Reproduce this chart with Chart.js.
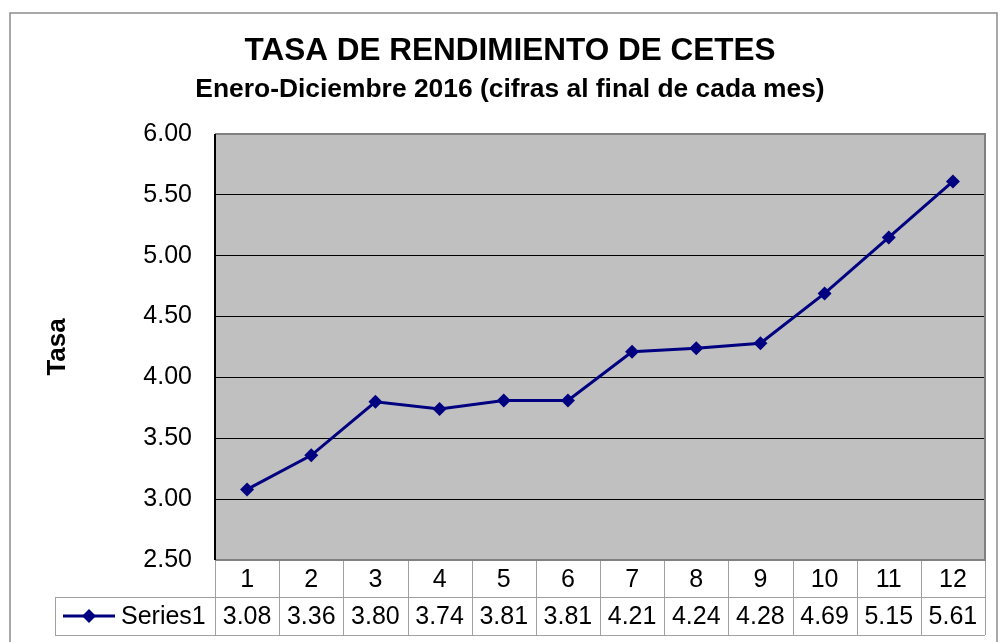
<!DOCTYPE html>
<html>
<head>
<meta charset="utf-8">
<title>Tasa de rendimiento de CETES</title>
<script src="https://cdn.jsdelivr.net/npm/chart.js@4.4.1/dist/chart.umd.min.js"></script>
<style>
  html, body { margin: 0; padding: 0; background: #fff; }
  #wrap { width: 1000px; height: 642px; }
</style>
</head>
<body>
<div id="wrap"><canvas id="chart" width="1000" height="642"></canvas></div>
<script>
// datos
const meses = ["1", "2", "3", "4", "5", "6", "7", "8", "9", "10", "11", "12"];
const tasa = [3.08, 3.36, 3.80, 3.74, 3.81, 3.81, 4.21, 4.24, 4.28, 4.69, 5.15, 5.61];
const serieNombre = "Series1";
const yMin = 2.5, yMax = 6.0, yPaso = 0.5;

const FONT = "'Liberation Sans', Arial, sans-serif";
const AZUL = "#000080";

// fondo gris y marco del area de trazado
const areaPlugin = {
  id: "area",
  beforeDraw(chart) {
    const { ctx, chartArea: a } = chart;
    ctx.save();
    ctx.fillStyle = "#fff";
    ctx.fillRect(0, 0, chart.width, chart.height);
    // marco exterior
    ctx.strokeStyle = "#8c8c8c";
    ctx.lineWidth = 1.5;
    ctx.strokeRect(10, 13, 987, 660);
    ctx.fillStyle = "#c0c0c0";
    ctx.fillRect(a.left, a.top, a.right - a.left, a.bottom - a.top);
    ctx.restore();
  },
  afterDatasetsDraw(chart) {
    const { ctx, chartArea: a } = chart;
    ctx.save();
    ctx.strokeStyle = "#808080";
    ctx.lineWidth = 2;
    ctx.beginPath();
    ctx.moveTo(a.left, a.top);
    ctx.lineTo(a.right, a.top);
    ctx.lineTo(a.right, a.bottom);
    ctx.lineTo(a.left, a.bottom);
    ctx.stroke();
    ctx.strokeStyle = "#000";
    ctx.beginPath();
    ctx.moveTo(a.left, a.top);
    ctx.lineTo(a.left, a.bottom);
    ctx.stroke();
    ctx.restore();
  }
};

// tabla de datos bajo el grafico
const tablaPlugin = {
  id: "tabla",
  afterDraw(chart) {
    const { ctx, chartArea: a } = chart;
    const xs = chart.scales.x;
    const ancho = (a.right - a.left) / meses.length;
    const y0 = a.bottom + 1, y1 = y0 + 36, y2 = y1 + 38;
    const leyIzq = 55;
    ctx.save();
    ctx.strokeStyle = "#a0a0a0";
    ctx.lineWidth = 1;
    ctx.beginPath();
    for (let i = 0; i <= meses.length; i++) {
      const x = Math.round(a.left + i * ancho) + 0.5;
      ctx.moveTo(x, y0);
      ctx.lineTo(x, y2);
    }
    ctx.moveTo(leyIzq + 0.5, y1);
    ctx.lineTo(leyIzq + 0.5, y2);
    ctx.moveTo(leyIzq, y1 + 0.5);
    ctx.lineTo(a.right, y1 + 0.5);
    ctx.moveTo(leyIzq, y2 + 0.5);
    ctx.lineTo(a.right, y2 + 0.5);
    ctx.stroke();

    ctx.fillStyle = "#000";
    ctx.font = "25px " + FONT;
    ctx.textAlign = "center";
    ctx.textBaseline = "middle";
    meses.forEach((m, i) => {
      const cx = xs.getPixelForValue(i);
      ctx.fillText(m, cx, (y0 + y1) / 2 + 1);
      ctx.fillText(tasa[i].toFixed(2), cx, (y1 + y2) / 2 + 1);
    });

    // clave de la serie
    const ly = (y1 + y2) / 2;
    ctx.strokeStyle = AZUL;
    ctx.lineWidth = 3;
    ctx.beginPath();
    ctx.moveTo(63, ly);
    ctx.lineTo(115, ly);
    ctx.stroke();
    ctx.fillStyle = AZUL;
    ctx.beginPath();
    ctx.moveTo(89, ly - 7);
    ctx.lineTo(96, ly);
    ctx.lineTo(89, ly + 7);
    ctx.lineTo(82, ly);
    ctx.closePath();
    ctx.fill();
    ctx.fillStyle = "#000";
    ctx.textAlign = "left";
    ctx.fillText(serieNombre, 121, ly + 1);
    ctx.restore();
  }
};

new Chart(document.getElementById("chart"), {
  type: "line",
  data: {
    labels: meses,
    datasets: [{
      label: serieNombre,
      data: tasa,
      borderColor: AZUL,
      backgroundColor: AZUL,
      borderWidth: 3,
      pointStyle: "rectRot",
      pointRadius: 7,
      pointBorderWidth: 0,
      tension: 0
    }]
  },
  options: {
    responsive: false,
    animation: false,
    devicePixelRatio: 1,
    layout: { padding: { left: 20, right: 0, top: 0, bottom: 82 } },
    plugins: {
      legend: { display: false },
      tooltip: { enabled: false },
      title: {
        display: true,
        text: "TASA DE RENDIMIENTO DE CETES",
        color: "#000",
        font: { family: FONT, size: 31.5, weight: "bold", lineHeight: 1 },
        padding: { top: 36, bottom: 0 }
      },
      subtitle: {
        display: true,
        text: "Enero-Diciembre 2016 (cifras al final de cada mes)",
        color: "#000",
        font: { family: FONT, size: 26.4, weight: "bold", lineHeight: 1 },
        padding: { top: 9, bottom: 31 }
      }
    },
    scales: {
      x: {
        display: false,
        offset: true
      },
      y: {
        min: yMin,
        max: yMax,
        afterFit(scale) { scale.width = 195; },
        ticks: {
          stepSize: yPaso,
          color: "#000",
          padding: 23,
          font: { family: FONT, size: 25 },
          callback: v => Number(v).toFixed(2)
        },
        grid: { color: "#000", lineWidth: 1, drawTicks: false },
        border: { display: false },
        title: {
          display: true,
          text: "Tasa",
          color: "#000",
          font: { family: FONT, size: 26, weight: "bold", lineHeight: 1 },
          padding: { top: 25, bottom: 0 }
        }
      },
      // eje vacio a la derecha para dejar el margen
      margen: {
        position: "right",
        min: yMin,
        max: yMax,
        afterFit(scale) { scale.width = 15; },
        ticks: { display: false },
        grid: { display: false, drawTicks: false },
        border: { display: false }
      }
    }
  },
  plugins: [areaPlugin, tablaPlugin]
});
</script>
</body>
</html>
